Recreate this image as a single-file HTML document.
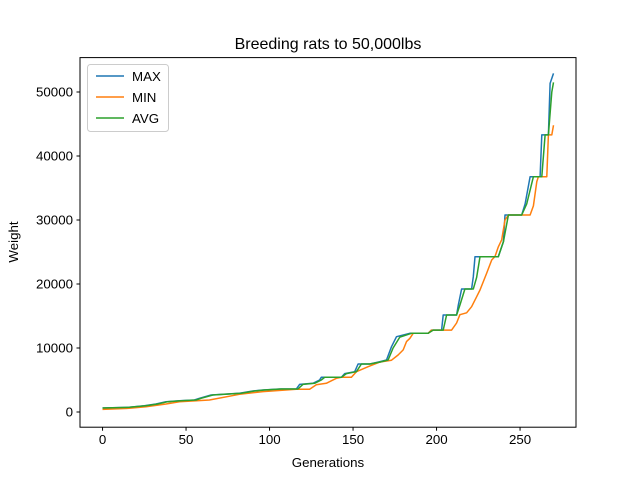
<!DOCTYPE html>
<html><head><meta charset="utf-8"><style>
body{margin:0;background:#fff;}
svg{display:block;font-family:"Liberation Sans","DejaVu Sans",sans-serif;}
</style></head><body>
<svg id="chart" width="640" height="480">
<rect x="0" y="0" width="640" height="480" fill="#fff"/>
<text x="328" y="49" font-size="16" text-anchor="middle">Breeding rats to 50,000lbs</text>
<g id="plot"></g>
<rect x="80" y="57.6" width="496" height="369.6" fill="none" stroke="#000" stroke-width="1"/>
<g id="xticks"></g>
<g id="yticks"></g>
<text x="328" y="467" font-size="13.3" text-anchor="middle">Generations</text>
<text x="18" y="242" font-size="13.3" text-anchor="middle" transform="rotate(-90 18 242)">Weight</text>
<g id="legend">
<rect x="87.5" y="64.5" width="81" height="67" rx="3" fill="#fff" fill-opacity="0.8" stroke="#ccc"/>
<g><line x1="96" y1="76" x2="124" y2="76" stroke="#1f77b4" stroke-width="1.5"/><text x="132" y="81" font-size="13.3">MAX</text></g>
<g><line x1="96" y1="97" x2="124" y2="97" stroke="#ff7f0e" stroke-width="1.5"/><text x="132" y="102" font-size="13.3">MIN</text></g>
<g><line x1="96" y1="118" x2="124" y2="118" stroke="#2ca02c" stroke-width="1.5"/><text x="132" y="123" font-size="13.3">AVG</text></g>
</g>
</svg>
<script>
const xTicks=[0,50,100,150,200,250];
const yTicks=[0,10000,20000,30000,40000,50000];
const maxGen=[0,16,25,32,38,46,55,58,65,82,90,96,106,116,118,126,130,131,143,145,151,153,160,165,170,173,176,184,195,197,203,204,212,213,215,221,222,223,237,240,241,251,253,256,262,263,267,268,270];
const maxVal=[620,730,990,1250,1610,1770,1875,2135,2660,2920,3280,3440,3590,3590,4320,4480,5000,5420,5420,6000,6300,7500,7500,7800,8125,10200,11770,12290,12290,12800,12800,15160,15160,16700,19220,19220,21140,24270,24270,26600,30780,30780,32500,36770,36770,43300,43300,51350,52900];
const minGen=[0,16,26,38,46,64,82,96,116,124,128,134,140,143,149,152,159,166,173,177,180,182,184,186,195,197,209,212,214,218,221,224,226,230,233,235,237,239,241,243,256,258,260,261,266,267,269,270];
const minVal=[400,575,830,1250,1610,1875,2760,3180,3540,3540,4270,4480,5260,5420,5420,6300,7080,7800,8100,8900,9700,11000,11500,12290,12290,12800,12800,13900,15200,15500,16450,18000,19060,21700,23750,24300,25800,26900,30000,30780,30780,32200,36000,36770,36770,43300,43300,44800];
const avgGen=[0,16,26,33,39,47,56,59,66,83,91,97,107,117,120,127,131,133,143,146,152,155,160,166,171,174,178,185,195,198,204,206,212,214,217,222,224,226,237,240,243,251,254,258,263,265,267,269,270];
const avgVal=[620,730,990,1250,1610,1770,1875,2135,2660,2920,3280,3440,3590,3590,4320,4480,5000,5420,5420,6000,6300,7500,7500,7800,8125,10000,11700,12290,12290,12800,12800,15160,15160,16700,19220,19220,21000,24270,24270,26600,30780,30780,32500,36770,36770,43300,43300,50000,51500];

const NS='http://www.w3.org/2000/svg';
const xMin=-13.5,xMax=283.5,yMin=-2535,yMax=55220;
const L=80,R=576,T=57.6,B=427.2;
function sx(v){return L+(v-xMin)/(xMax-xMin)*(R-L);}
function sy(v){return 412-v*0.0064;}
function mk(tag,attrs,parent){const e=document.createElementNS(NS,tag);for(const k in attrs)e.setAttribute(k,attrs[k]);parent.appendChild(e);return e;}

const xg=document.getElementById('xticks');
xTicks.forEach(t=>{
  const l=mk('line',{x1:sx(t),x2:sx(t),y1:B,y2:B+3.5,stroke:'#000'},xg);
  
  
  const tx=mk('text',{x:sx(t),y:B+17,'font-size':'13.3','text-anchor':'middle'},xg);
  tx.textContent=t;
  
  
});
const yg=document.getElementById('yticks');
yTicks.forEach(t=>{
  const l=mk('line',{x1:L-3.5,x2:L,y1:sy(t),y2:sy(t),stroke:'#000'},yg);
  
  
  const tx=mk('text',{x:L-7,y:sy(t)+4.7,'font-size':'13.3','text-anchor':'end'},yg);
  tx.textContent=t;
  
  
});
const pg=document.getElementById('plot');
function series(gens,vals,color,name){
  const pts=gens.map((g,i)=>sx(g).toFixed(1)+','+sy(vals[i]).toFixed(1)).join(' ');
  const p=mk('polyline',{points:pts,fill:'none',stroke:color,'stroke-width':1.5,'stroke-linejoin':'round'},pg);
  
  
}
series(maxGen,maxVal,'#1f77b4','max-line');
series(minGen,minVal,'#ff7f0e','min-line');
series(avgGen,avgVal,'#2ca02c','avg-line');
</script>
</body></html>
